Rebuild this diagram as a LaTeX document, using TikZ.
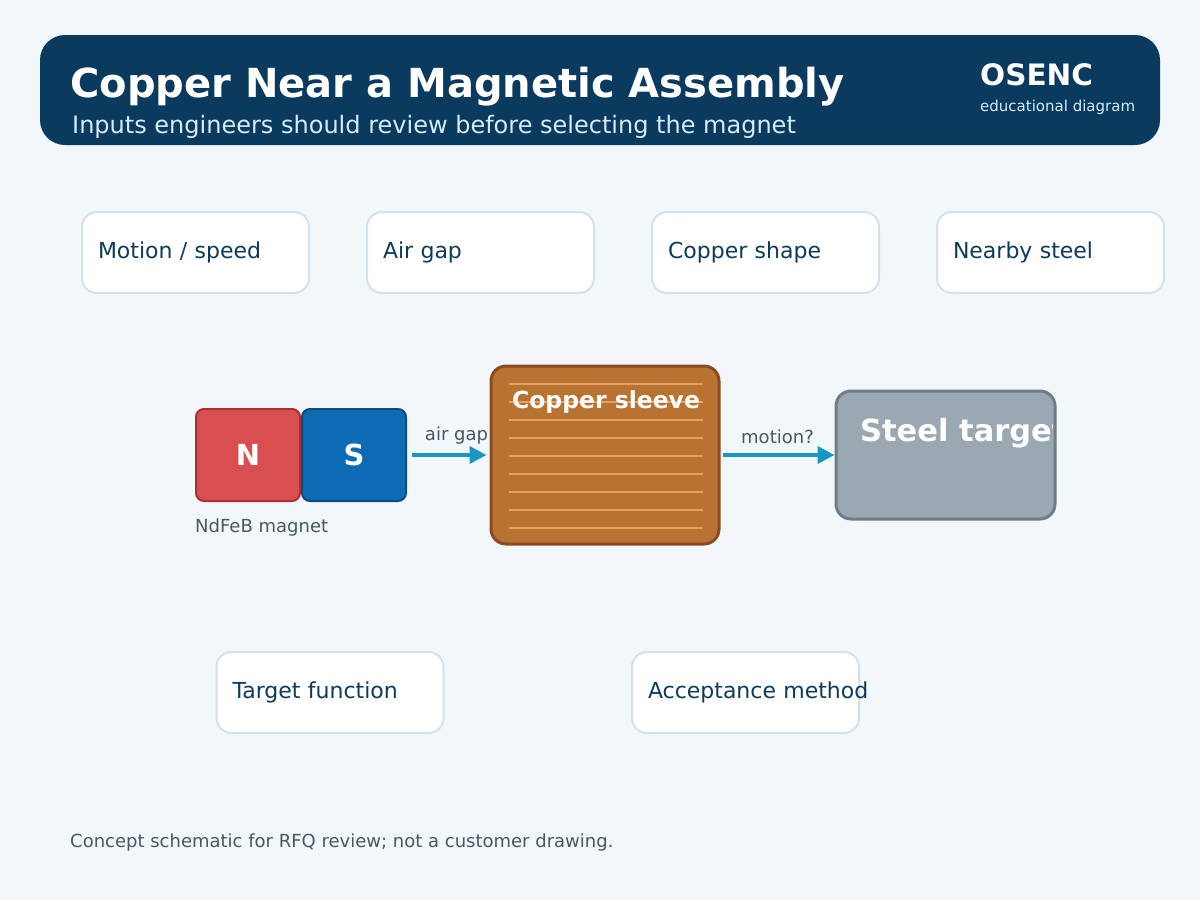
\documentclass[tikz,border=0pt]{standalone}
\usepackage{fontspec}
\setmainfont{DejaVu Sans}
\usepackage{xcolor}
\usetikzlibrary{arrows.meta,positioning,calc}
\definecolor{bgpage}{HTML}{F2F7FA}
\definecolor{navy}{HTML}{0A3A5E}
\definecolor{inkline}{HTML}{D3E2EA}
\definecolor{inktext}{HTML}{0D3B5A}
\definecolor{greytext}{HTML}{4A5862}
\definecolor{flowblue}{HTML}{1797C6}
\definecolor{copper}{HTML}{B87333}
\definecolor{copperedge}{HTML}{8C4A22}
\definecolor{copperline}{HTML}{E3A062}
\definecolor{steel}{HTML}{9AA8B2}
\definecolor{steeledge}{HTML}{6E7D88}
\definecolor{northred}{HTML}{D94F50}
\definecolor{northedge}{HTML}{AE3033}
\definecolor{southblue}{HTML}{0D6BB4}
\definecolor{southedge}{HTML}{0B4D80}
\definecolor{subtext}{HTML}{D6ECF7}
\newcommand{\fsz}[1]{\fontsize{#1}{#1}\selectfont}

\begin{document}
\begin{tikzpicture}[x=1pt,y=-1pt,>=Stealth,
  inbox/.style={draw=inkline,line width=2pt,fill=white,rounded corners=15pt,
    minimum width=227pt,minimum height=81pt,text width=195pt,inner xsep=16pt,
    align=left,text=inktext,font=\fsz{22}},
  pole/.style={line width=2pt,rounded corners=8pt,minimum width=104pt,
    minimum height=92pt,text=white,font=\fsz{29}\bfseries},
  part/.style={line width=3pt,rounded corners=15pt},
  note/.style={text=greytext,font=\fsz{18},inner sep=0pt},
  flow/.style={line width=4pt,draw=flowblue,
    -{Triangle[length=17pt,width=17pt]}}]
  \fill[bgpage] (0,0) rectangle (1200,900);
  \useasboundingbox (0,0) rectangle (1200,900);
  % header
  \node[fill=navy,rounded corners=25pt,minimum width=1120pt,minimum height=110pt,
    inner sep=0pt] (banner) at (600,90) {};
  \node[anchor=base west,inner sep=0pt,text=white,font=\fsz{40}\bfseries] (title)
    at (70,97) {Copper Near a Magnetic Assembly};
  \node[anchor=base west,inner sep=0pt,text=subtext,font=\fsz{24}] (subtitle)
    at (72,133) {Inputs engineers should review before selecting the magnet};
  \node[anchor=base west,inner sep=0pt,text=white,font=\fsz{29.5}\bfseries] (brand)
    at (980,85) {OSENC};
  \node[anchor=base west,inner sep=0pt,text=subtext,font=\fsz{15}] (brandsub)
    at (980,111) {educational diagram};
  % review inputs
  \node[inbox] (speed) at (195.5,252.5) {Motion / speed};
  \node[inbox] (gap) at (480.5,252.5) {Air gap};
  \node[inbox] (shape) at (765.5,252.5) {Copper shape};
  \node[inbox] (nearsteel) at (1050.5,252.5) {Nearby steel};
  \node[inbox] (func) at (330,692.5) {Target function};
  \node[inbox] (accept) at (745.5,692.5) {\mbox{Acceptance method}};
  % magnet
  \node[pole,fill=northred,draw=northedge] (N) at (248,455) {N};
  \node[pole,fill=southblue,draw=southedge,right=0pt of N] (S) {S};
  \node[note,anchor=north west] (mlabel) at ([yshift=-17pt]N.south west) {NdFeB magnet};
  % copper sleeve
  \node[part,fill=copper,draw=copperedge,minimum width=228pt,minimum height=178pt]
    (sleeve) at (605,455) {};
  \foreach \y in {384,402,...,528}
    \draw[copperline,line width=1.2pt] (509,\y) -- (703,\y);
  \node[anchor=base,inner sep=0pt,text=white,font=\fsz{23.5}\bfseries] (sleevelabel)
    at (606,408) {Copper sleeve};
  % steel target
  \node[part,fill=steel,draw=steeledge,minimum width=219pt,minimum height=128pt]
    (steel) at (945.5,455) {};
  \begin{scope}
    \clip (830,380) rectangle (1052,530);
    \node[anchor=base west,inner sep=0pt,text=white,font=\fsz{30.5}\bfseries]
      (steellabel) at (860,441) {Steel target};
  \end{scope}
  % connectors
  \draw[flow,shorten <=5pt,shorten >=3pt] (S) -- node[note,above=9pt,pos=0.6] (gaplabel) {air gap} (sleeve);
  \draw[flow,shorten <=2pt] (sleeve) -- node[note,above=9pt] (motionlabel) {motion?} (steel);
  % footer
  \node[note,anchor=base west] (footer) at (70,847)
    {Concept schematic for RFQ review; not a customer drawing.};
\end{tikzpicture}
\end{document}
